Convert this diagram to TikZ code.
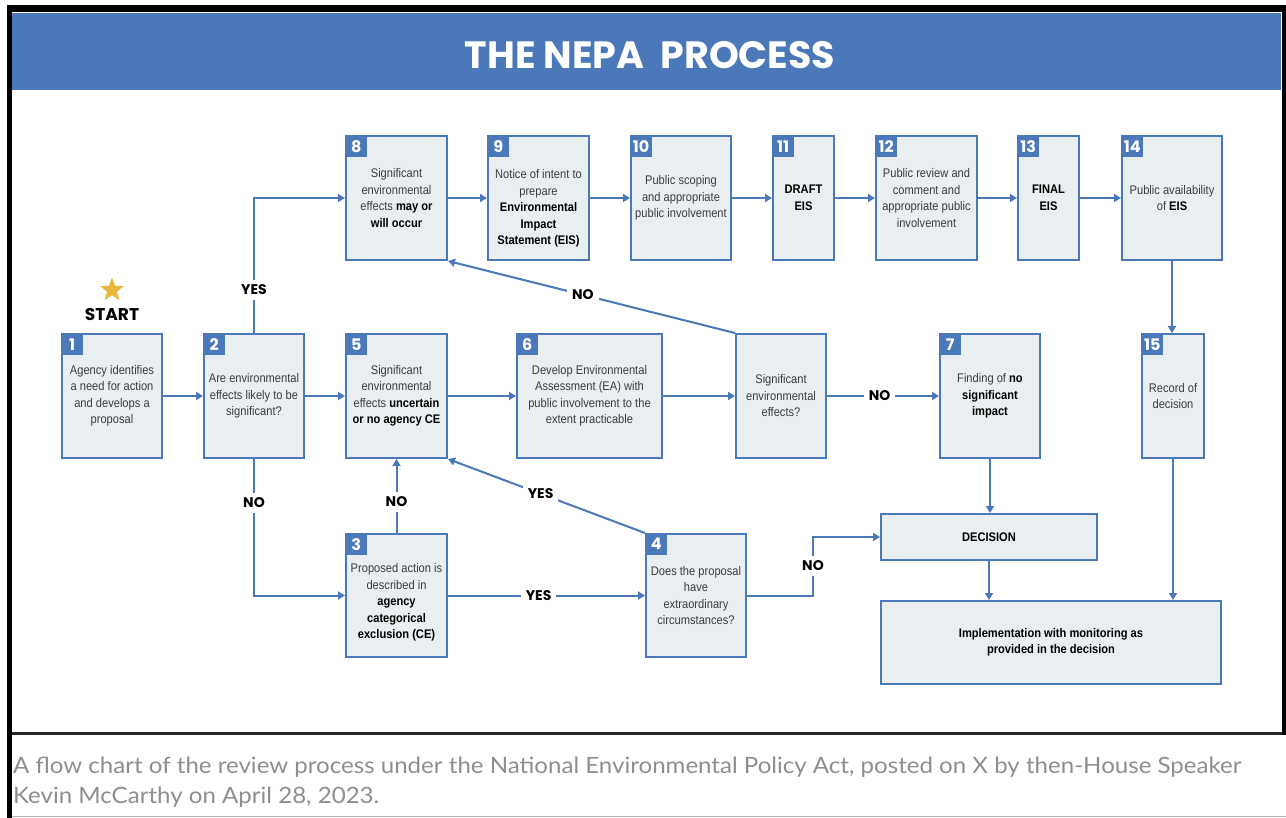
\documentclass[tikz,border=0pt]{standalone}
\usepackage{fontspec}
\setmainfont{Liberation Sans}
\newfontfamily\boxfont[FakeStretch=0.89]{Liberation Sans}
\newfontfamily\headfont{Poppins}
\newfontfamily\capfont[FakeStretch=1.07]{Lato}
\usetikzlibrary{arrows.meta,shapes.geometric}

\definecolor{nepablue}{HTML}{4A78B8}
\definecolor{boxfill}{HTML}{E9EEF0}
\definecolor{boxtext}{HTML}{3C3C3C}
\definecolor{capgray}{HTML}{8E8E8E}
\definecolor{stargold}{HTML}{E9B83A}

\newcommand{\boldpart}[1]{\textbf{\color{black}#1}}

\begin{document}
\begin{tikzpicture}[x=1pt, y=-1pt,
  nepabox/.style={draw=nepablue, line width=2pt, fill=boxfill, inner sep=2pt,
    align=center, text=boxtext, font=\boxfont\fontsize{12.5}{16.5}\selectfont},
  tall/.style={minimum height=124pt},
  numtag/.style={fill=nepablue, text=white, anchor=north west, minimum size=22pt,
    inner sep=0pt, font=\headfont\bfseries\fontsize{16}{16}\selectfont},
  flow/.style={nepablue, line width=2pt, -{Triangle[length=7pt, width=8pt]}},
  yesno/.style={fill=white, text=black, inner sep=5pt, font=\headfont\bfseries\fontsize{14}{14}\selectfont}]
\useasboundingbox (0,0) rectangle (1286,818);

% frame and header
\fill[black] (7,5) rectangle (1286,12);
\fill[black] (7,5) rectangle (12,818);
\fill[black] (1282,5) rectangle (1286,735);
\fill[black!85] (12,732) rectangle (1282,735);
\draw[gray!60] (12,816.5) -- (1286,816.5);
\fill[nepablue] (12,13) rectangle (1281,90);
\node[text=white, font=\headfont\bfseries\fontsize{38}{38}\selectfont] (title) at (650,55) {THE NEPA\ \ PROCESS};

% start
\node[star, star points=5, star point ratio=2.4, fill=stargold, minimum size=25pt, inner sep=0pt] (startstar) at (112,290) {};
\node[font=\headfont\bfseries\fontsize{17}{17}\selectfont] (starttxt) at (112,315) {START};

% middle row
\node[nepabox, tall, minimum width=100pt, label={[numtag]north west:1}] (s1) at (112,396)
  {Agency identifies\\a need for action\\and develops a\\proposal};
\node[nepabox, tall, minimum width=100pt, label={[numtag]north west:2}] (s2) at (254,396)
  {Are environmental\\effects likely to be\\significant?};
\node[nepabox, tall, minimum width=101pt, label={[numtag]north west:5}] (s5) at (396.5,396)
  {Significant\\environmental\\effects \boldpart{uncertain}\\\boldpart{or no agency CE}};
\node[nepabox, tall, minimum width=145pt, label={[numtag]north west:6}] (s6) at (589.5,396)
  {Develop Environmental\\Assessment (EA) with\\public involvement to the\\extent practicable};
\node[nepabox, tall, minimum width=90pt] (sig) at (781,396)
  {Significant\\environmental\\effects?};
\node[nepabox, tall, minimum width=100pt, label={[numtag]north west:7}] (s7) at (990,396)
  {Finding of \boldpart{no}\\\boldpart{significant}\\\boldpart{impact}};
\node[nepabox, tall, minimum width=62pt, label={[numtag]north west:15}] (s15) at (1173,396)
  {Record of\\decision};

% top row
\node[nepabox, tall, minimum width=101pt, label={[numtag]north west:8}] (s8) at (396.5,198)
  {Significant\\environmental\\effects \boldpart{may or}\\\boldpart{will occur}};
\node[nepabox, tall, minimum width=101pt, label={[numtag]north west:9}] (s9) at (538.5,198)
  {\\[13.5pt]Notice of intent to\\prepare\\\boldpart{Environmental}\\\boldpart{Impact}\\\boldpart{Statement (EIS)}};
\node[nepabox, tall, minimum width=100pt, label={[numtag]north west:10}] (s10) at (681,198)
  {Public scoping\\and appropriate\\public involvement};
\node[nepabox, tall, minimum width=61pt, label={[numtag]north west:11}] (s11) at (803.5,198)
  {\boldpart{DRAFT}\\\boldpart{EIS}};
\node[nepabox, tall, minimum width=101pt, label={[numtag]north west:12}] (s12) at (926.5,198)
  {Public review and\\comment and\\appropriate public\\involvement};
\node[nepabox, tall, minimum width=61pt, label={[numtag]north west:13}] (s13) at (1048.5,198)
  {\boldpart{FINAL}\\\boldpart{EIS}};
\node[nepabox, tall, minimum width=100pt, label={[numtag]north west:14}] (s14) at (1172,198)
  {Public availability\\of \boldpart{EIS}};

% bottom row
\node[nepabox, minimum height=123pt, minimum width=101pt, label={[numtag]north west:3}] (s3) at (396.5,595.5)
  {\\[6.5pt]Proposed action is\\described in\\\boldpart{agency}\\\boldpart{categorical}\\\boldpart{exclusion (CE)}};
\node[nepabox, minimum height=123pt, minimum width=100pt, label={[numtag]north west:4}] (s4) at (696,595.5)
  {Does the proposal\\have\\extraordinary\\circumstances?};
\node[nepabox, minimum height=46pt, minimum width=216pt] (decision) at (989,537)
  {\boldpart{DECISION}};
\node[nepabox, minimum height=83pt, minimum width=340pt] (implement) at (1051,642.5)
  {\boldpart{Implementation with monitoring as}\\\boldpart{provided in the decision}};

% connectors
\draw[flow] (s1.east) -- (s2.west);
\draw[flow] (s2.east) -- (s5.west);
\draw[flow] (s5.east) -- (s6.west);
\draw[flow] (s6.east) -- (sig.west);
\draw[flow] (sig.east) -- node[yesno, pos=0.47] (no7) {NO} (s7.west);
\draw[flow] (s2.north) |- node[yesno, pos=0.16] (yes8) {YES} (s8.west);
\draw[flow] (s2.south) |- node[yesno, pos=0.16] (no3) {NO} (s3.west);
\draw[flow] (s3.north) -- node[yesno, pos=0.42] (no5) {NO} (s5.south);
\draw[flow] (s3.east) -- node[yesno, pos=0.46] (yes4) {YES} (s4.west);
\draw[flow] (s4.north west) -- node[yesno, pos=0.53] (yes5) {YES} (s5.south east);
\draw[flow] (sig.north west) -- node[yesno, pos=0.53] (no8) {NO} (s8.south east);
\coordinate (nojog) at (813,566);
\draw[flow] (s4.east) -| (nojog) node[yesno] (nodec) {NO} |- (decision.west);
\draw[flow] (s8.east) -- (s9.west);
\draw[flow] (s9.east) -- (s10.west);
\draw[flow] (s10.east) -- (s11.west);
\draw[flow] (s11.east) -- (s12.west);
\draw[flow] (s12.east) -- (s13.west);
\draw[flow] (s13.east) -- (s14.west);
\draw[flow] (s14.south) -- (s14.south |- s15.north);
\draw[flow] (s7.south) -- (s7.south |- decision.north);
\draw[flow] (decision.south) -- (decision.south |- implement.north);
\draw[flow] (s15.south) -- (s15.south |- implement.north);

% caption
\node[anchor=base west, inner sep=0pt, text=capgray, font=\capfont\fontsize{22.5}{30}\selectfont] (caption1) at (13,773)
  {A flow chart of the review process under the National Environmental Policy Act, posted on X by then-House Speaker};
\node[anchor=base west, inner sep=0pt, text=capgray, font=\capfont\fontsize{22.5}{30}\selectfont] (caption2) at (13,803)
  {Kevin McCarthy on April 28, 2023.};
\end{tikzpicture}
\end{document}
